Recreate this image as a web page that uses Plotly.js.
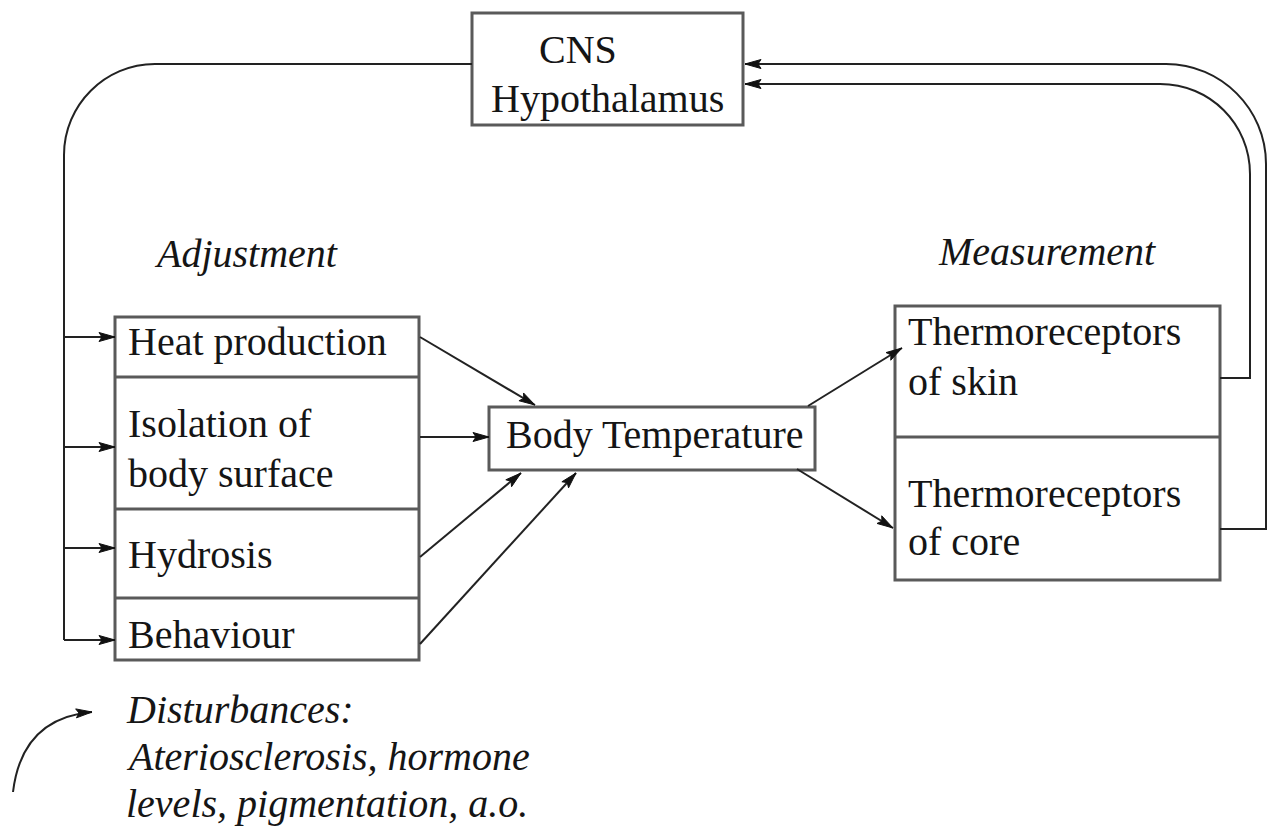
<!DOCTYPE html>
<html>
<head>
<meta charset="utf-8">
<script src="https://cdn.plot.ly/plotly-3.0.1.min.js"></script>
<style>html,body{margin:0;padding:0;background:#fff;}#chart{width:1268px;height:829px;}</style>
</head>
<body>
<div id="chart"></div>
<script>
// ---- text content ----
const centerTitle = ['CNS', 'Hypothalamus'];
const adjustmentLabel = 'Adjustment';
const measurementLabel = 'Measurement';
const adjustmentItems = [['Heat production'], ['Isolation of', 'body surface'], ['Hydrosis'], ['Behaviour']];
const measurementItems = [['Thermoreceptors', 'of skin'], ['Thermoreceptors', 'of core']];
const controlledVariable = 'Body Temperature';
const disturbanceLines = ['Disturbances:', 'Ateriosclerosis, hormone', 'levels, pigmentation, a.o.'];

// ---- geometry (pixel layout of the diagram) ----
const cnsBox = [472, 13, 743, 125];
const cnsBaselines = [63, 112];
const cnsCenters = [578, 607];
const adjBox = [115, 317, 419, 660];
const adjDividers = [377, 509, 598];
const adjBaselines = [[355], [437, 487], [568], [648]];
const adjTextX = 127;
const measBox = [895, 306, 1220, 580];
const measDividers = [437];
const measBaselines = [[345, 395], [507, 555]];
const measTextX = 907;
const bodyBox = [489, 407, 815, 470];
const bodyBaseline = 448;
const bodyCenter = 654;
const headingPos = [[246, 267], [1047, 265]];
const distX = 125;
const distBaselines = [723, 770, 817];
const feedArrowY = [337, 447, 548, 640];
const straightArrows = [
  [420, 337, 535, 405],
  [420, 437, 489, 437],
  [420, 557, 521, 473],
  [420, 644, 576, 473],
  [808, 406, 902, 348],
  [797, 469, 893, 528]
];

const LINE = '#222';
const BOX = '#5a5a5a';
const TEXT = '#151515';
const FONT = 'Liberation Serif';
const FS = 40;
const BASE_OFF = 13.5;

const shapes = [];
const annotations = [];

function rect(b) {
  shapes.push({type: 'rect', x0: b[0], y0: b[1], x1: b[2], y1: b[3], line: {color: BOX, width: 3}, fillcolor: 'rgba(0,0,0,0)'});
}
function hline(x0, x1, y, color, w) {
  shapes.push({type: 'line', x0: x0, x1: x1, y0: y, y1: y, line: {color: color || BOX, width: w || 3}});
}
function path(d, w) {
  shapes.push({type: 'path', path: d, line: {color: LINE, width: w || 2}, fillcolor: 'rgba(0,0,0,0)'});
}
function head(x0, y0, x1, y1) {
  const len = 16, hw = 4.5, notch = 3;
  const dx = x1 - x0, dy = y1 - y0, L = Math.hypot(dx, dy);
  const ux = dx / L, uy = dy / L, px = -uy, py = ux;
  const bx = x1 - ux * len, by = y1 - uy * len;
  const d = 'M ' + x1 + ' ' + y1 +
    ' L ' + (bx + px * hw) + ' ' + (by + py * hw) +
    ' L ' + (bx + ux * notch) + ' ' + (by + uy * notch) +
    ' L ' + (bx - px * hw) + ' ' + (by - py * hw) + ' Z';
  shapes.push({type: 'path', path: d, line: {color: '#111', width: 1}, fillcolor: '#111'});
}
function arrow(x0, y0, x1, y1) {
  shapes.push({type: 'line', x0: x0, y0: y0, x1: x1, y1: y1, line: {color: LINE, width: 2}});
  head(x0, y0, x1, y1);
}
function label(text, x, baseline, anchor, italic) {
  annotations.push({
    text: italic ? '<i>' + text + '</i>' : text,
    x: x, y: baseline - BASE_OFF, xref: 'x', yref: 'y',
    xanchor: anchor, yanchor: 'middle', showarrow: false, borderpad: 0,
    font: {family: FONT, size: FS, color: TEXT}
  });
}

// boxes
rect(cnsBox);
rect(adjBox);
adjDividers.forEach(y => hline(adjBox[0], adjBox[2], y));
rect(measBox);
measDividers.forEach(y => hline(measBox[0], measBox[2], y));
rect(bodyBox);

// feedback loop from CNS to effectors
path('M ' + cnsBox[0] + ' 64 L 155 64 C 105 64 64 105 64 155 L 64 ' + feedArrowY[feedArrowY.length - 1]);
feedArrowY.forEach(y => arrow(64, y, adjBox[0], y));

// sensor loops back to CNS
path('M ' + measBox[2] + ' 378 L 1250 378 L 1250 174 C 1250 124 1210 84 1160 84 L ' + (cnsBox[2] + 2) + ' 84');
head(770, 84, cnsBox[2] + 2, 84);
path('M ' + measBox[2] + ' 529 L 1266 529 L 1266 164 C 1266 109 1221 64 1166 64 L ' + (cnsBox[2] + 2) + ' 64');
head(770, 64, cnsBox[2] + 2, 64);

// straight connectors
straightArrows.forEach(a => arrow(a[0], a[1], a[2], a[3]));

// disturbance curved arrow
path('M 13 792 Q 22 718 92 712');
head(22, 718, 92, 712);

// texts
centerTitle.forEach((t, i) => label(t, cnsCenters[i], cnsBaselines[i], 'center', false));
label(adjustmentLabel, headingPos[0][0], headingPos[0][1], 'center', true);
label(measurementLabel, headingPos[1][0], headingPos[1][1], 'center', true);
adjustmentItems.forEach((lines, i) => lines.forEach((t, j) => label(t, adjTextX, adjBaselines[i][j], 'left', false)));
measurementItems.forEach((lines, i) => lines.forEach((t, j) => label(t, measTextX, measBaselines[i][j], 'left', false)));
label(controlledVariable, bodyCenter, bodyBaseline, 'center', false);
disturbanceLines.forEach((t, i) => label(t, distX, distBaselines[i], 'left', true));

const layout = {
  width: 1268, height: 829,
  margin: {l: 0, r: 0, t: 0, b: 0, pad: 0},
  paper_bgcolor: '#ffffff', plot_bgcolor: '#ffffff',
  xaxis: {range: [0, 1268], visible: false},
  yaxis: {range: [829, 0], visible: false},
  showlegend: false,
  shapes: shapes,
  annotations: annotations
};

Plotly.newPlot('chart', [], layout, {displayModeBar: false, staticPlot: true});
</script>
</body>
</html>
